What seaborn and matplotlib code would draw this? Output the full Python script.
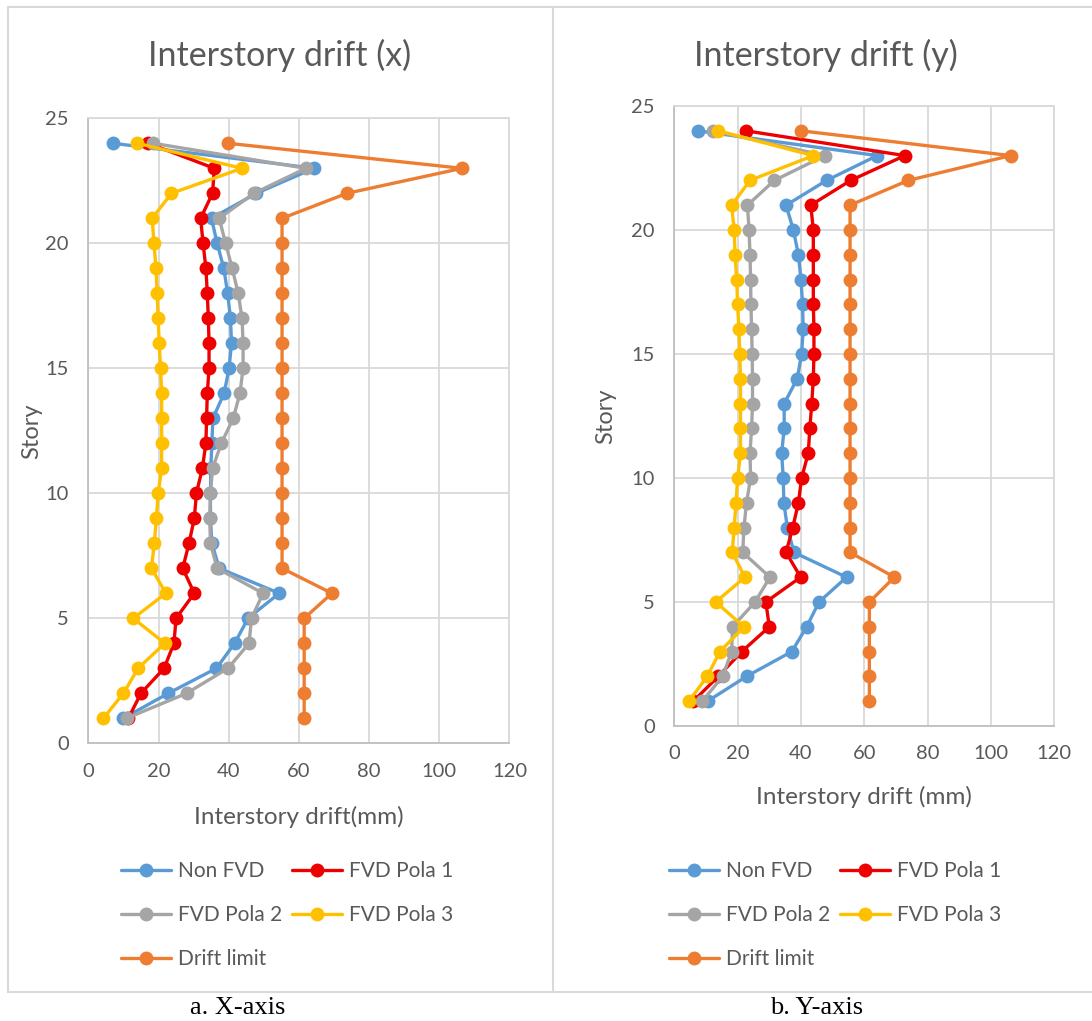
import matplotlib
matplotlib.use("Agg")
import matplotlib.pyplot as plt
from matplotlib.lines import Line2D
import seaborn as sns

# ---------------- data ----------------
stories = [1, 2, 3, 4, 5, 6, 7, 8, 9, 10, 11, 12, 13, 14, 15, 16, 17, 18, 19, 20, 21, 22, 23, 24]

series_names = ["Non FVD", "FVD Pola 1", "FVD Pola 2", "FVD Pola 3", "Drift limit"]

# X direction (mm), story 1 -> 24
x_non_fvd = [10.0, 22.8, 36.5, 41.7, 45.5, 54.4, 37.3, 35.2, 34.8, 34.8, 34.9, 35.2, 35.5, 38.7,
             40.1, 40.8, 40.5, 39.7, 38.6, 36.7, 35.1, 47.9, 64.3, 7.1]
x_pola1 = [11.4, 15.0, 21.6, 24.4, 25.0, 30.2, 26.9, 28.7, 30.2, 30.8, 32.5, 33.5, 33.7, 33.9,
           34.4, 34.4, 34.2, 33.9, 33.5, 32.7, 32.0, 35.4, 35.9, 17.1]
x_pola2 = [10.9, 28.0, 39.8, 45.8, 46.5, 49.8, 36.7, 34.8, 34.6, 34.8, 35.4, 37.9, 41.3, 43.2,
           44.1, 44.1, 43.8, 42.7, 41.0, 39.1, 37.3, 47.2, 62.0, 18.5]
x_pola3 = [4.3, 10.0, 14.2, 21.8, 12.8, 22.1, 18.0, 18.8, 19.4, 19.9, 20.9, 20.9, 20.9, 20.9,
           20.6, 20.2, 19.9, 19.6, 19.3, 18.7, 18.2, 23.7, 43.8, 14.0]
x_limit = [61.5, 61.5, 61.5, 61.5, 61.5, 69.4, 55.2, 55.2, 55.2, 55.2, 55.2, 55.2, 55.2, 55.2,
           55.2, 55.2, 55.2, 55.2, 55.2, 55.2, 55.2, 73.7, 106.5, 39.8]

# Y direction (mm), story 1 -> 24
y_non_fvd = [10.5, 22.8, 37.1, 41.8, 45.7, 54.4, 37.8, 35.7, 34.6, 34.4, 33.9, 34.7, 34.7, 38.8,
             40.2, 40.7, 40.5, 40.0, 39.2, 37.6, 35.3, 48.1, 64.1, 7.4]
y_pola1 = [6.0, 13.9, 21.3, 30.0, 28.9, 39.9, 35.3, 37.4, 39.2, 40.2, 42.3, 42.8, 43.4, 43.9,
           44.1, 44.1, 43.9, 43.9, 43.9, 43.9, 43.1, 55.7, 72.8, 22.6]
y_pola2 = [8.8, 15.3, 18.1, 18.4, 25.5, 30.2, 21.6, 22.0, 22.8, 24.1, 23.9, 24.4, 24.7, 24.7,
           24.6, 24.4, 24.2, 24.1, 23.9, 23.6, 23.1, 31.6, 47.6, 12.3]
y_pola3 = [4.6, 10.4, 14.4, 22.0, 13.1, 22.3, 18.3, 18.9, 19.5, 20.0, 20.9, 20.9, 20.9, 20.9,
           20.7, 20.4, 20.0, 19.7, 19.2, 18.9, 18.1, 23.9, 43.9, 13.9]
y_limit = [61.6, 61.6, 61.6, 61.6, 61.6, 69.5, 55.5, 55.5, 55.5, 55.5, 55.5, 55.5, 55.5, 55.5,
           55.5, 55.5, 55.5, 55.5, 55.5, 55.5, 55.5, 73.9, 106.2, 40.0]

x_ticks = [0, 20, 40, 60, 80, 100, 120]
y_ticks = [0, 5, 10, 15, 20, 25]

titles = ["Interstory drift (x)", "Interstory drift (y)"]
xlabels = ["Interstory drift(mm)", "Interstory drift (mm)"]
ylabel = "Story"
captions = ["a. X-axis", "b. Y-axis"]

colors = ["#5B9BD5", "#EE0000", "#A5A5A5", "#FFC000", "#ED7D31"]

# ---------------- style ----------------
sns.set_theme(style="white")
plt.rcParams["font.family"] = ["Lato", "DejaVu Sans"]
TXT = "#595959"
GRID = "#D9D9D9"

W, H = 1092, 1021
fig = plt.figure(figsize=(W / 100, H / 100), dpi=100)


def fx(px):
    return px / W


def fy(py):
    return 1 - py / H


# panel frames
frame_kw = dict(color=GRID, lw=1.5, transform=fig.transFigure)
fig.add_artist(Line2D([fx(8), fx(1092)], [fy(7), fy(7)], **frame_kw))
fig.add_artist(Line2D([fx(8), fx(1092)], [fy(992), fy(992)], **frame_kw))
fig.add_artist(Line2D([fx(8), fx(8)], [fy(7), fy(992)], **frame_kw))
fig.add_artist(Line2D([fx(553), fx(553)], [fy(7), fy(992)], **frame_kw))

# axes rectangles in pixels: (left, right, top, bottom)
rects = [(88.3, 509.5, 118.3, 743.3), (674.3, 1054.3, 106.0, 726.0)]
data_sets = [
    [x_non_fvd, x_pola1, x_pola2, x_pola3, x_limit],
    [y_non_fvd, y_pola1, y_pola2, y_pola3, y_limit],
]
title_pos = [(280, 55), (826, 55)]
ylabel_x = [32, 606]
xlabel_y = [817, 797]
legend_anchor = [(121, 861), (669, 861)]
caption_pos = [(238, 1008), (817, 1008)]

for i in range(2):
    l, r, t, b = rects[i]
    ax = fig.add_axes([fx(l), fy(b), (r - l) / W, (b - t) / H])
    for name, vals, col in zip(series_names, data_sets[i], colors):
        sns.lineplot(x=vals, y=stories, sort=False, estimator=None, color=col,
                     marker="o", markersize=10, markeredgewidth=0, linewidth=2.4,
                     label=name, ax=ax)
    ax.set_xlim(0, 120)
    ax.set_ylim(0, 25)
    ax.set_xticks(x_ticks)
    ax.set_yticks(y_ticks)
    ax.set_axisbelow(True)
    ax.grid(True, color=GRID, lw=1.3)
    for s in ax.spines.values():
        s.set_color(GRID)
        s.set_linewidth(1.3)
    ax.spines["left"].set_color("#BFBFBF")
    ax.spines["bottom"].set_color("#BFBFBF")
    ax.tick_params(axis="both", length=0, labelsize=14.5, labelcolor=TXT)
    ax.tick_params(axis="x", pad=14)
    ax.tick_params(axis="y", pad=14)

    ax.set_xlabel(xlabels[i], fontsize=17.5, color=TXT)
    ax.xaxis.label.set_va("center")
    ax.xaxis.set_label_coords(0.5, (b - xlabel_y[i]) / (b - t))
    ax.set_ylabel(ylabel, fontsize=17, color=TXT)
    ax.yaxis.label.set_va("center")
    ax.yaxis.set_label_coords((ylabel_x[i] - l) / (r - l), 0.5)

    handles, labels = ax.get_legend_handles_labels()
    ax.get_legend().remove()
    order = [0, 2, 4, 1, 3]
    fig.legend([handles[k] for k in order], [labels[k] for k in order],
               loc="upper left",
               bbox_to_anchor=(fx(legend_anchor[i][0]), fy(legend_anchor[i][1])),
               bbox_transform=fig.transFigure, ncol=2, frameon=False,
               borderpad=0, borderaxespad=0, handlelength=2.4, handletextpad=0.35,
               columnspacing=0.45, labelspacing=1.15, fontsize=15, labelcolor=TXT)

    fig.text(fx(title_pos[i][0]), fy(title_pos[i][1]), titles[i], ha="center", va="center",
             fontsize=24.5, color=TXT)
    fig.text(fx(caption_pos[i][0]), fy(caption_pos[i][1]), captions[i], ha="center",
             va="center", fontsize=19, color="black", family=["Liberation Serif"])

fig.savefig("out.png", dpi=100)
